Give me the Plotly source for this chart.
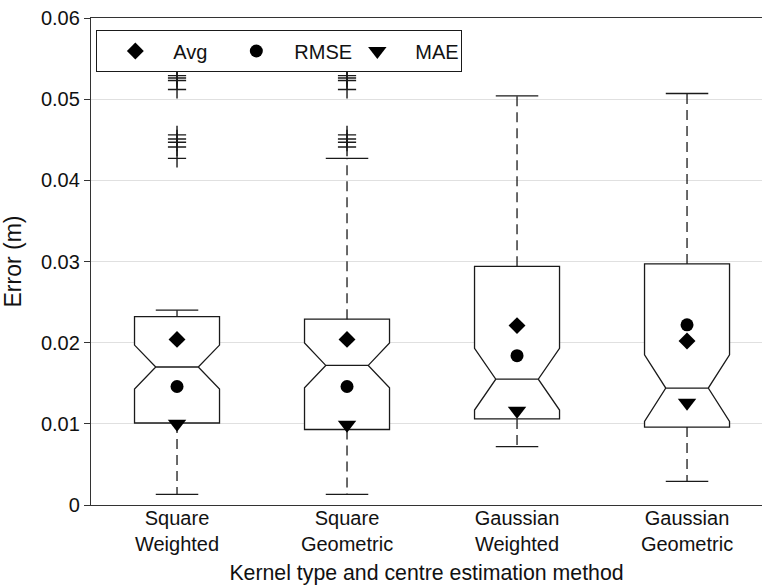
import plotly.graph_objects as go

# ---------------- data ----------------
categories = ["Square<br>Weighted", "Square<br>Geometric", "Gaussian<br>Weighted", "Gaussian<br>Geometric"]
q1 = [0.0101, 0.0093, 0.0106, 0.0096]
median = [0.0170, 0.0172, 0.0155, 0.0144]
q3 = [0.0232, 0.0229, 0.0294, 0.0297]
notch_span = [0.0027, 0.00275, 0.0038, 0.0041]
lower_whisker = [0.0013, 0.0013, 0.0072, 0.0029]
upper_whisker = [0.0240, 0.0427, 0.0504, 0.0507]

avg = [0.0204, 0.0204, 0.0221, 0.0202]
rmse = [0.0146, 0.0146, 0.0184, 0.0222]
mae = [0.0100, 0.0099, 0.0116, 0.0126]

outliers_square_weighted = [0.0529, 0.0526, 0.0523, 0.0512, 0.0456, 0.0451, 0.0447, 0.0441, 0.0427]
outliers_square_geometric = [0.0529, 0.0526, 0.0523, 0.0512, 0.0456, 0.0451, 0.0447, 0.0441]
outliers = [outliers_square_weighted, outliers_square_geometric, [], []]

# ---------------- style ----------------
BOX_W = 0.5
CAP_HALF = BOX_W / 4
LINE = "#1a1a1a"
FONT = "Liberation Sans, Arial, sans-serif"

pos = list(range(len(categories)))

fig = go.Figure()

# dashed whiskers
wx, wy = [], []
for i in pos:
    wx += [i, i, None, i, i, None]
    wy += [q3[i], upper_whisker[i], None, q1[i], lower_whisker[i], None]
fig.add_trace(go.Scatter(x=wx, y=wy, mode="lines", showlegend=False, hoverinfo="skip",
                         line=dict(color=LINE, width=1.3, dash="10px,6px")))

# notched boxes
fig.add_trace(go.Box(x=pos, q1=q1, median=median, q3=q3, lowerfence=q1, upperfence=q3,
                     notchspan=notch_span, notched=True, notchwidth=0.25, width=BOX_W,
                     whiskerwidth=0, boxpoints=False, fillcolor="white",
                     line=dict(color=LINE, width=1.3), showlegend=False, hoverinfo="skip"))

# whisker caps
cx, cy = [], []
for i in pos:
    cx += [i - CAP_HALF, i + CAP_HALF, None, i - CAP_HALF, i + CAP_HALF, None]
    cy += [upper_whisker[i], upper_whisker[i], None, lower_whisker[i], lower_whisker[i], None]
fig.add_trace(go.Scatter(x=cx, y=cy, mode="lines", showlegend=False, hoverinfo="skip",
                         line=dict(color=LINE, width=1.3)))

# outliers
ox, oy = [], []
for i in pos:
    for v in outliers[i]:
        ox.append(i)
        oy.append(v)
fig.add_trace(go.Scatter(x=ox, y=oy, mode="markers", showlegend=False,
                         marker=dict(symbol="cross-thin", size=13,
                                     line=dict(color=LINE, width=1.4))))

# summary markers
fig.add_trace(go.Scatter(x=pos, y=avg, mode="markers", name="Avg",
                         marker=dict(symbol="diamond", size=13, color="black")))
fig.add_trace(go.Scatter(x=pos, y=rmse, mode="markers", name="RMSE",
                         marker=dict(symbol="circle", size=13, color="black")))
fig.add_trace(go.Scatter(x=pos, y=mae, mode="markers", name="MAE",
                         marker=dict(symbol="triangle-down", size=16, color="black")))

fig.update_layout(
    width=762, height=586, autosize=False,
    margin=dict(l=91, r=0, t=18, b=81, autoexpand=False),
    paper_bgcolor="white", plot_bgcolor="white",
    font=dict(family=FONT, size=20, color="#111"),
    showlegend=True,
    legend=dict(orientation="h", x=0.0075, y=0.975, xanchor="left", yanchor="top",
                bordercolor=LINE, borderwidth=1.3, bgcolor="white",
                itemwidth=66, entrywidth=40, entrywidthmode="pixels",
                font=dict(size=20)),
    xaxis=dict(range=[-0.506, 3.441], tickmode="array", tickvals=pos, ticktext=categories,
               showline=True, linecolor="#333", linewidth=1.3, mirror=True,
               ticks="", showgrid=False, zeroline=False, ticklabelstandoff=-5,
               automargin=False,
               title=dict(text="Kernel type and centre estimation method", standoff=10,
                          font=dict(size=21.3))),
    yaxis=dict(range=[0, 0.06], dtick=0.01, tick0=0, showline=True, linecolor="#333",
               linewidth=1.3, ticks="outside", ticklen=6, tickcolor="#333",
               showgrid=True, gridcolor="#e0e0e0", gridwidth=1, zeroline=False,
               automargin=False,
               title=dict(text="Error (m)", standoff=12, font=dict(size=23))),
)

fig.write_html(
    "out.html",
    config={"responsive": False, "displayModeBar": False},
    post_script="var s=document.createElement('style');"
                "s.innerHTML='html,body{margin:0!important;padding:0!important;overflow:hidden!important}';"
                "document.head.appendChild(s);",
)
